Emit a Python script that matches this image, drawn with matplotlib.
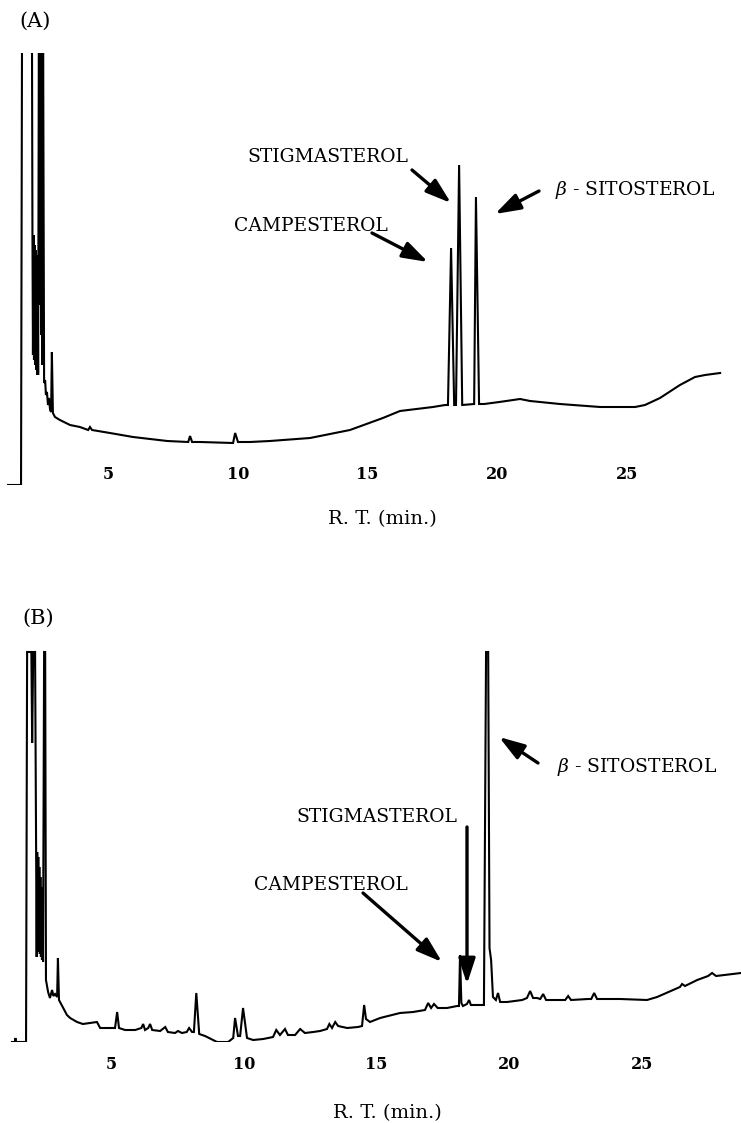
import matplotlib
matplotlib.use("Agg")
import matplotlib.pyplot as plt

plt.rcParams["font.family"] = ["DejaVu Serif"]
plt.rcParams["mathtext.fontset"] = "dejavuserif"

# chromatogram (A): retention time (min) and detector response (a.u.)
rt_a = [1.13, 1.63, 1.67, 2.05, 2.07, 2.09, 2.11, 2.13, 2.15, 2.17, 2.19, 2.21,
        2.23, 2.25, 2.27, 2.29, 2.32, 2.34, 2.36, 2.38, 2.40, 2.42, 2.44, 2.46,
        2.48, 2.52, 2.56, 2.59, 2.63, 2.67, 2.71, 2.75, 2.79,
        2.82, 2.86, 2.94, 3.13, 3.52, 3.90, 4.22, 4.29, 4.37, 5.06, 5.95, 7.27,
        8.08, 8.15, 8.23, 8.54, 9.81, 9.89, 10.00, 10.46, 11.23, 12.78, 14.32,
        15.59, 16.25, 17.52, 17.99, 18.10, 18.22, 18.34, 18.41, 18.53, 18.65,
        19.11, 19.18, 19.30, 19.50, 20.08, 20.88, 21.27, 22.42, 23.97, 25.32,
        25.70, 26.28, 27.05, 27.63, 28.02, 28.60]
resp_a = [0, 0, 470, 470, 255, 130, 250, 125, 240, 120, 235, 115,
          230, 110, 225, 110, 470, 200, 470, 180, 470, 150, 470, 120,
          470, 102, 105, 90, 93, 80, 87, 75, 73,
          133, 72, 68, 65, 60, 58, 55, 58, 55, 52, 48, 44,
          43, 49, 43, 43, 42, 52, 43, 43, 44, 47, 55,
          67, 74, 78, 80, 80, 237, 80, 80, 320, 80,
          81, 288, 81, 81, 83, 86, 84, 81, 78, 78,
          80, 87, 100, 108, 110, 112]

# chromatogram (B)
rt_b = [1.27, 1.38, 1.40, 1.42, 1.80, 1.84, 2.00, 2.03, 2.07, 2.14, 2.18, 2.20,
        2.22, 2.24, 2.26, 2.28, 2.30, 2.32, 2.34, 2.36, 2.38, 2.40, 2.42, 2.44,
        2.48, 2.52, 2.55, 2.63, 2.70, 2.78,
        2.83, 2.89, 2.97, 3.00, 3.04, 3.08, 3.34, 3.46, 3.72, 3.94, 4.47, 4.59,
        5.15, 5.23, 5.30, 5.53, 5.91, 6.14, 6.21, 6.28, 6.40, 6.47, 6.55, 6.85,
        7.04, 7.14, 7.41, 7.52, 7.67, 7.85, 7.94, 8.05, 8.12, 8.21, 8.32, 8.54,
        8.99, 9.41, 9.60, 9.67, 9.78, 9.86, 9.97, 10.12, 10.35, 10.73, 11.10,
        11.22, 11.36, 11.55, 11.66, 11.93, 12.12, 12.30, 12.61, 12.87, 13.13,
        13.22, 13.32, 13.44, 13.55, 13.89, 14.30, 14.45, 14.53, 14.60, 14.75,
        15.13, 15.88, 16.37, 16.82, 16.94, 17.05, 17.16, 17.30, 17.65, 18.03,
        18.10, 18.14, 18.19, 18.25, 18.40, 18.48, 18.55, 19.04, 19.12, 19.20,
        19.25, 19.31, 19.38, 19.49, 19.57, 19.65, 19.91, 20.48, 20.66, 20.78,
        20.89, 21.04, 21.16, 21.27, 21.38, 21.91, 22.10, 22.21, 22.32, 22.96,
        23.08, 23.19, 23.30, 24.17, 25.18, 25.56, 26.16, 26.42, 26.50, 26.61,
        27.07, 27.48, 27.63, 27.78, 28.72]
resp_b = [0, 0, 4, 0, 0, 390, 390, 299, 390, 390, 195, 85,
          190, 90, 185, 95, 175, 88, 165, 85, 155, 82, 150, 80,
          390, 390, 62, 50, 44, 52,
          46, 48, 45, 84, 42, 40, 27, 24, 20, 18, 20, 14,
          14, 30, 14, 12, 12, 14, 18, 12, 14, 18, 12, 11,
          15, 10, 9, 11, 9, 10, 14, 10, 10, 49, 8, 6,
          0, 0, 4, 24, 6, 6, 34, 4, 2, 3, 5,
          12, 7, 13, 7, 7, 13, 9, 10, 11, 13,
          18, 14, 20, 16, 14, 15, 16, 37, 23, 20,
          24, 29, 30, 32, 39, 34, 38, 34, 34, 36,
          36, 87, 39, 36, 38, 42, 37, 37, 390, 390,
          94, 82, 45, 42, 49, 40, 40, 42, 44, 51,
          44, 44, 43, 48, 42, 42, 42, 46, 42, 43,
          43, 49, 43, 43, 42, 45, 52, 55, 58, 56,
          62, 66, 69, 66, 69]

ticks = [5, 10, 15, 20, 25]
tick_labels = ["5", "10", "15", "20", "25"]

W, H = 741, 1123
fig = plt.figure(figsize=(W / 100, H / 100), dpi=100)


def px(x, y):
    # image-style pixel position (origin top-left) -> figure pixels
    return (x, H - y)


def panel(rect, rt, resp, xlim, ylim, pad):
    ax = fig.add_axes(rect)
    ax.plot(rt, resp, color="black", lw=1.5, solid_joinstyle="miter")
    ax.set_xlim(*xlim)
    ax.set_ylim(*ylim)
    for s in ax.spines.values():
        s.set_visible(False)
    ax.set_yticks([])
    ax.set_xticks(ticks)
    ax.set_xticklabels(tick_labels, fontsize=11.5, fontweight="bold")
    ax.tick_params(axis="x", length=0, pad=pad)
    ax.patch.set_alpha(0)
    return ax


ax_a = panel([4.7 / W, (H - 485) / H, 725.8 / W, 432 / H], rt_a, resp_a,
             (1, 29), (0, 432), -14)
ax_b = panel([4.8 / W, (H - 1042) / H, 735.7 / W, 392 / H], rt_b, resp_b,
             (1, 28.7), (0, 392), 10)


def text(s, xy, size=13.5, ha="center", cap=7):
    # xy is the visual centre of capital letters; shift down to baseline
    x, y = xy
    fig.text(*px(x, y + cap), s, transform=None, fontsize=size,
             ha=ha, va="baseline")


text("(A)", (35, 20), size=15)
text("(B)", (38, 617), size=15)
text("R. T. (min.)", (382, 517), size=14)
text("R. T. (min.)", (387, 1111), size=14)

arrow = dict(arrowstyle="-|>,head_length=1.1,head_width=0.36", lw=2.4,
             color="black", shrinkA=0, shrinkB=0, mutation_scale=14)


def arr(tail, tip):
    ax_a.annotate("", xy=px(*tip), xycoords="figure pixels",
                  xytext=px(*tail), textcoords="figure pixels",
                  arrowprops=arrow, annotation_clip=False)


# (A) peak labels
text("STIGMASTEROL", (408, 155), ha="right")
text("CAMPESTEROL", (388, 224), ha="right")
text(r"$\beta$ - SITOSTEROL", (555, 188), ha="left")
arr((412, 170), (451, 203))
arr((372, 233), (428, 262))
arr((539, 191), (495, 214))

# (B) peak labels
text(r"$\beta$ - SITOSTEROL", (557, 765), ha="left")
text("STIGMASTEROL", (457, 815), ha="right")
text("CAMPESTEROL", (408, 883), ha="right")
arr((538, 763), (499, 737))
arr((467, 827), (467, 984))
arr((363, 893), (442, 962))

fig.savefig("out.png", dpi=100)
